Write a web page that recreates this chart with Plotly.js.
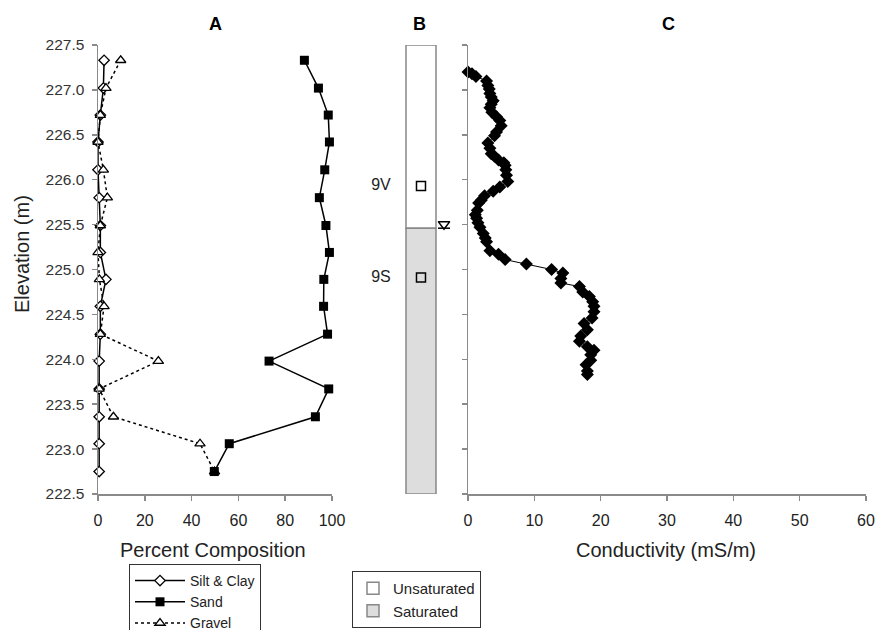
<!DOCTYPE html>
<html>
<head>
<meta charset="utf-8">
<script src="https://cdn.plot.ly/plotly-3.0.1.min.js"></script>
<style>html,body{margin:0;padding:0;background:#fff;overflow:hidden;}#chart{width:877px;height:630px;}</style>
</head>
<body>
<div id="chart"></div>
<script>
// ---- Panel A: particle-size composition (percent) by elevation (m) ----
const elevation = [227.33, 227.02, 226.72, 226.42, 226.11, 225.80, 225.49, 225.19, 224.89, 224.59, 224.28, 223.98, 223.67, 223.36, 223.06, 222.75];
const siltClay  = [2.6, 2.3, 1.0, 0.0, 0.0, 0.5, 1.0, 1.0, 3.4, 1.0, 1.0, 0.5, 0.5, 0.5, 0.5, 0.5];
const sand      = [88.2, 94.2, 98.4, 98.9, 96.9, 94.6, 97.4, 98.9, 96.5, 96.4, 98.1, 73.1, 98.6, 92.9, 56.1, 49.7];
const gravel    = [9.7, 3.4, 1.0, 0.0, 2.3, 4.0, 1.0, 0.0, 0.6, 2.6, 1.0, 25.8, 0.5, 6.6, 43.6, 49.8];
const seriesNames = ['Silt & Clay', 'Sand', 'Gravel'];
const percentTicks = [0, 20, 40, 60, 80, 100];

// ---- Panel B: well screens and water table ----
const zoneNames = ['Unsaturated', 'Saturated'];
const waterTable = 225.46;
const wellNames = ['9V', '9S'];
const wellElev = [225.93, 224.91];

// ---- Panel C: conductivity log ----
const condElev = [227.20, 227.18, 227.15, 227.10, 227.05, 227.01, 226.96, 226.92, 226.88, 226.84, 226.80, 226.75, 226.70, 226.66, 226.60, 226.53, 226.49, 226.41, 226.35, 226.29, 226.26, 226.22, 226.19, 226.16, 226.11, 226.05, 225.98, 225.92, 225.87, 225.82, 225.77, 225.74, 225.66, 225.61, 225.57, 225.52, 225.47, 225.40, 225.35, 225.31, 225.21, 225.17, 225.11, 225.06, 225.00, 224.96, 224.90, 224.85, 224.81, 224.75, 224.70, 224.64, 224.59, 224.53, 224.46, 224.40, 224.33, 224.26, 224.20, 224.14, 224.10, 224.05, 223.99, 223.94, 223.87, 223.83];
const conductivity = [0.0, 0.6, 1.2, 2.8, 3.0, 3.2, 3.3, 3.5, 3.8, 3.5, 3.3, 3.6, 4.3, 4.8, 5.0, 4.3, 4.0, 3.0, 3.3, 3.5, 4.0, 4.6, 5.4, 5.6, 5.7, 5.8, 6.0, 4.8, 3.8, 2.5, 2.0, 1.6, 1.4, 1.1, 1.3, 1.5, 1.8, 2.3, 2.6, 2.8, 3.3, 4.6, 5.6, 8.8, 12.6, 14.3, 14.0, 14.0, 16.8, 17.3, 18.3, 18.8, 19.0, 19.0, 18.7, 17.5, 18.0, 17.0, 16.8, 18.0, 19.0, 18.5, 18.5, 17.8, 18.0, 18.0];
const condTicks = [0, 10, 20, 30, 40, 50, 60];

const elevRange = [222.5, 227.5];

// ---- layout helpers (pixel geometry of the 877x630 figure) ----
const W = 877, H = 630;
const px = v => v / W;
const py = v => 1 - v / H;
const FONT = 'Liberation Sans, Arial, Helvetica, sans-serif';
const AXC = '#8a8a8a';
const TXT = '#222';

const traces = [
  { name: seriesNames[0], legendrank: 1, x: siltClay, y: elevation, xaxis: 'x', yaxis: 'y', type: 'scatter', mode: 'lines+markers', cliponaxis: false,
    line: { color: '#000', width: 1.5 },
    marker: { symbol: 'diamond', size: 8, color: '#fff', line: { color: '#000', width: 1.3 } }, legend: 'legend' },
  { name: seriesNames[2], legendrank: 3, x: gravel, y: elevation, xaxis: 'x', yaxis: 'y', type: 'scatter', mode: 'lines+markers', cliponaxis: false,
    line: { color: '#000', width: 1.5, dash: 'dot' },
    marker: { symbol: 'triangle-up', size: 9, color: '#fff', line: { color: '#000', width: 1.3 } }, legend: 'legend' },
  { name: seriesNames[1], legendrank: 2, x: sand, y: elevation, xaxis: 'x', yaxis: 'y', type: 'scatter', mode: 'lines+markers', cliponaxis: false,
    line: { color: '#000', width: 1.5 },
    marker: { symbol: 'square', size: 9, color: '#000' }, legend: 'legend' },

  // Panel B column
  { name: zoneNames[0], legendrank: 1, type: 'bar', x: [2.033], y: [elevRange[1] - waterTable], base: [waterTable], width: [1],
    xaxis: 'x2', yaxis: 'y2', marker: { color: '#ffffff', line: { color: '#888', width: 1.5 } }, legend: 'legend2' },
  { name: zoneNames[1], legendrank: 2, type: 'bar', x: [2.033], y: [waterTable - elevRange[0]], base: [elevRange[0]], width: [1],
    xaxis: 'x2', yaxis: 'y2', marker: { color: '#dddddd', line: { color: '#888', width: 1.5 } }, legend: 'legend2' },
  { type: 'scatter', mode: 'markers', x: wellElev.map(() => 2.033), y: wellElev, xaxis: 'x2', yaxis: 'y2', showlegend: false, cliponaxis: false,
    marker: { symbol: 'square-open', size: 9, color: '#000', line: { width: 1.5 } } },
  { type: 'scatter', mode: 'text', x: wellNames.map(() => 0.7), y: wellElev, text: wellNames, xaxis: 'x2', yaxis: 'y2', showlegend: false, cliponaxis: false,
    textfont: { family: FONT, size: 16, color: TXT } },
  { type: 'scatter', mode: 'markers', x: [2.8], y: [waterTable + 0.045], xaxis: 'x2', yaxis: 'y2', showlegend: false, cliponaxis: false,
    marker: { symbol: 'triangle-down-open', size: 10, color: '#000', line: { width: 1.5 } } },
  { type: 'scatter', mode: 'lines', x: [2.6, 3.0], y: [waterTable, waterTable], xaxis: 'x2', yaxis: 'y2', showlegend: false, cliponaxis: false,
    line: { color: '#000', width: 1.5 } },

  // Panel C
  { type: 'scatter', mode: 'lines+markers', x: conductivity, y: condElev, xaxis: 'x3', yaxis: 'y3', showlegend: false, cliponaxis: false,
    line: { color: '#000', width: 1 }, marker: { symbol: 'diamond', size: 10, color: '#000' } }
];

const yDomain = [py(494), py(45)];
const axisCommon = {
  showgrid: false, zeroline: false, showline: true, linecolor: AXC, linewidth: 1.5,
  ticks: 'outside', ticklen: 5, tickwidth: 1.5, tickcolor: AXC,
  tickfont: { family: FONT, size: 16, color: TXT }, automargin: false, fixedrange: true
};

function label(text, x, y, size, extra) {
  return Object.assign({ text: text, x: px(x), y: py(y), xref: 'paper', yref: 'paper', xanchor: 'center', yanchor: 'middle',
    showarrow: false, font: { family: FONT, size: size, color: TXT } }, extra || {});
}

const layout = {
  width: W, height: H,
  margin: { l: 0, r: 0, t: 0, b: 0, pad: 0, autoexpand: false },
  paper_bgcolor: '#fff', plot_bgcolor: 'rgba(0,0,0,0)',
  font: { family: FONT, color: TXT },
  barmode: 'overlay',
  xaxis: Object.assign({}, axisCommon, { domain: [px(98), px(332)], anchor: 'y', range: [0, 100], tickvals: percentTicks, ticklabelstandoff: 6 }),
  yaxis: Object.assign({}, axisCommon, { domain: yDomain, anchor: 'x', range: elevRange, dtick: 0.5, tick0: 222.5, tickformat: '.1f', ticklabelstandoff: 4,
    tickfont: { family: FONT, size: 15.5, color: '#333' } }),
  xaxis2: { domain: [px(360), px(456)], anchor: 'y2', range: [0, 3.2], visible: false, fixedrange: true },
  yaxis2: { domain: yDomain, anchor: 'x2', range: elevRange, visible: false, fixedrange: true },
  xaxis3: Object.assign({}, axisCommon, { domain: [px(468), px(866)], anchor: 'y3', range: [0, 60], tickvals: condTicks, ticklabelstandoff: 6 }),
  yaxis3: Object.assign({}, axisCommon, { domain: yDomain, anchor: 'x3', range: elevRange, dtick: 0.5, tick0: 222.5, showticklabels: false }),
  legend: {
    x: px(129), y: py(564), xanchor: 'left', yanchor: 'top', orientation: 'v',
    bgcolor: '#fff', bordercolor: '#333', borderwidth: 1, itemwidth: 50,
    font: { family: FONT, size: 14, color: TXT }, traceorder: 'normal', tracegroupgap: 0
  },
  legend2: {
    x: px(352), y: py(571), xanchor: 'left', yanchor: 'top', orientation: 'v',
    bgcolor: '#fff', bordercolor: '#333', borderwidth: 1, itemwidth: 30,
    font: { family: FONT, size: 15, color: TXT }, traceorder: 'normal', tracegroupgap: 0
  },
  annotations: [
    label('<b>A</b>', 215, 24, 18, { font: { family: FONT, size: 18, color: '#000' } }),
    label('<b>B</b>', 419, 24, 18, { font: { family: FONT, size: 18, color: '#000' } }),
    label('<b>C</b>', 668, 24, 18, { font: { family: FONT, size: 18, color: '#000' } }),
    label('Percent Composition', 213, 550, 20),
    label('Conductivity (mS/m)', 666, 550, 20),
    label('Elevation (m)', 22, 254, 20, { textangle: -90 })
  ],
  showlegend: true
};

Plotly.newPlot('chart', traces, layout, { displayModeBar: false, staticPlot: true });
</script>
</body>
</html>
